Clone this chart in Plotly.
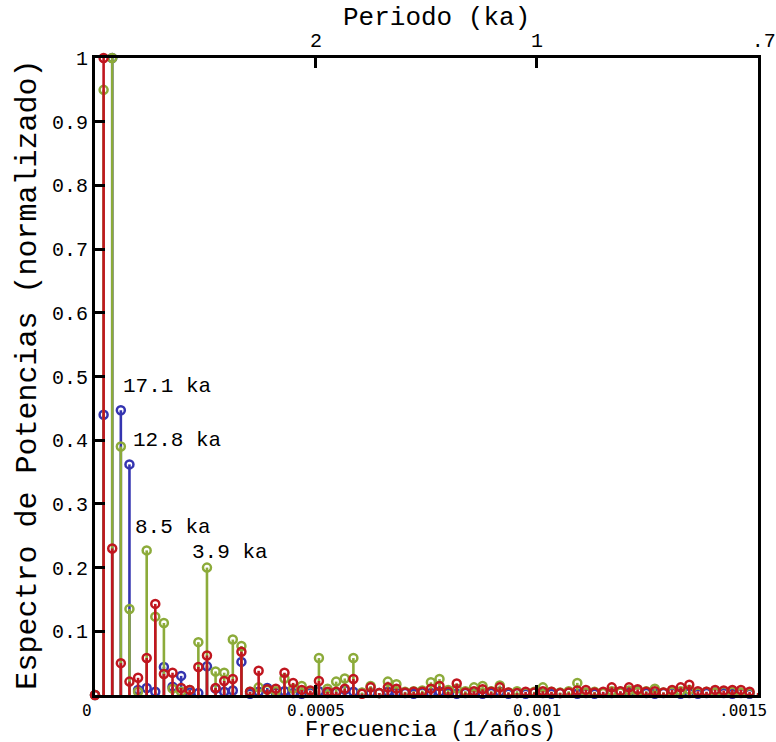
import plotly.graph_objects as go

# Frequency grid (1/years): spectral resolution of the records
freq_step = 1.949e-5
n_freq = 78
freqs = [k * freq_step for k in range(n_freq)]

blue_vals = [0.0, 0.44, 1.0, 0.447, 0.362, 0.008, 0.011, 0.005, 0.044, 0.013,
             0.03, 0.004, 0.003, 0.045, 0.01, 0.005, 0.007, 0.052, 0.002, 0.005,
             0.011, 0.004, 0.006, 0.003, 0.002, 0.004, 0.006, 0.003, 0.004, 0.008,
             0.005, 0.003, 0.004, 0.003, 0.005, 0.004, 0.003, 0.002, 0.004, 0.003,
             0.005, 0.003, 0.002, 0.003, 0.004, 0.002, 0.003, 0.005, 0.002, 0.003,
             0.002, 0.004, 0.003, 0.002, 0.003, 0.004, 0.002, 0.003, 0.002, 0.004,
             0.003, 0.005, 0.004, 0.006, 0.003, 0.002, 0.003, 0.004, 0.002, 0.003,
             0.002, 0.003, 0.004, 0.003, 0.002, 0.003, 0.002, 0.002]

green_vals = [0.0, 0.95, 1.0, 0.39, 0.135, 0.005, 0.227, 0.123, 0.113, 0.01,
              0.005, 0.008, 0.083, 0.2, 0.037, 0.035, 0.087, 0.077, 0.005, 0.012,
              0.008, 0.006, 0.026, 0.01, 0.014, 0.006, 0.058, 0.01, 0.021, 0.026,
              0.058, 0.004, 0.014, 0.003, 0.021, 0.017, 0.005, 0.006, 0.007, 0.02,
              0.025, 0.008, 0.01, 0.006, 0.012, 0.014, 0.006, 0.015, 0.004, 0.006,
              0.004, 0.005, 0.012, 0.005, 0.004, 0.006, 0.019, 0.004, 0.005, 0.003,
              0.006, 0.004, 0.007, 0.005, 0.006, 0.01, 0.004, 0.005, 0.006, 0.008,
              0.004, 0.005, 0.004, 0.006, 0.005, 0.004, 0.003, 0.002]

red_vals = [0.0, 1.0, 0.23, 0.05, 0.021, 0.027, 0.058, 0.143, 0.033, 0.035,
            0.011, 0.008, 0.044, 0.062, 0.011, 0.022, 0.025, 0.068, 0.005, 0.038,
            0.009, 0.01, 0.035, 0.019, 0.008, 0.007, 0.022, 0.005, 0.005, 0.01,
            0.025, 0.002, 0.012, 0.003, 0.012, 0.01, 0.004, 0.005, 0.005, 0.01,
            0.014, 0.005, 0.018, 0.004, 0.006, 0.009, 0.005, 0.012, 0.004, 0.003,
            0.005, 0.004, 0.006, 0.005, 0.003, 0.004, 0.007, 0.008, 0.004, 0.005,
            0.012, 0.006, 0.012, 0.009, 0.005, 0.006, 0.004, 0.008, 0.012, 0.016,
            0.006, 0.005, 0.008, 0.007, 0.008, 0.008, 0.005, 0.003]

series_names = ["Serie azul", "Serie verde", "Serie roja"]
series_colors = ["#3434b0", "#8cab3a", "#c0161f"]

x_tick_vals = [0, 0.0005, 0.001, 0.0015]
x_tick_text = ["0", "0.0005", "0.001", ".0015"]
x_tick_label_shift = [-8, 0, 0, -15]
y_tick_vals = [0.1, 0.2, 0.3, 0.4, 0.5, 0.6, 0.7, 0.8, 0.9, 1]
y_tick_text = ["0.1", "0.2", "0.3", "0.4", "0.5", "0.6", "0.7", "0.8", "0.9", "1"]
period_tick_vals = [0.0005, 0.001, 0.0015]
period_tick_text = ["2", "1", "\u00a0.7"]

peak_labels = ["17.1 ka", "12.8 ka", "8.5 ka", "3.9 ka"]
peak_label_x = [0.0000580, 0.0000810, 0.0000850, 0.0002160]
peak_label_y = [0.485, 0.40, 0.263, 0.223]

MONO = "Liberation Mono, Courier New, monospace"
X_RANGE = [0, 0.0015003]

fig = go.Figure()
for vals, name, color in zip([blue_vals, green_vals, red_vals], series_names, series_colors):
    sx, sy = [], []
    for f, v in zip(freqs, vals):
        sx += [f, f, None]
        sy += [0, v, None]
    fig.add_trace(go.Scatter(x=sx, y=sy, mode="lines", line=dict(color=color, width=2.6),
                             name=name, showlegend=False, hoverinfo="skip", cliponaxis=False))
    fig.add_trace(go.Scatter(x=freqs, y=vals, mode="markers", name=name, showlegend=False,
                             marker=dict(symbol="circle-open", size=8, color=color,
                                         line=dict(color=color, width=2.5)),
                             cliponaxis=False))

# invisible trace for top (period) axis
fig.add_trace(go.Scatter(x=[0, 0.0015], y=[0, 0], xaxis="x2", mode="markers",
                         marker=dict(opacity=0), showlegend=False, hoverinfo="skip"))

for txt, xv, yv in zip(peak_labels, peak_label_x, peak_label_y):
    fig.add_annotation(x=xv, y=yv, text=txt, showarrow=False, xanchor="left",
                       yanchor="middle", font=dict(family=MONO, size=21, color="black"))

# bottom tick labels (placed as annotations so the last one can sit inside the page)
for tv, tt, sh in zip(x_tick_vals, x_tick_text, x_tick_label_shift):
    fig.add_annotation(x=tv, xref="x", y=-0.025, yref="paper", text=tt, showarrow=False,
                       xanchor="center", yanchor="middle", xshift=sh, borderpad=0,
                       font=dict(family="DejaVu Sans Mono, monospace", size=16, color="black"))

fig.add_annotation(xref="paper", yref="paper", x=0.506, y=-0.056, text="Frecuencia (1/años)",
                   showarrow=False, xanchor="center", yanchor="middle", borderpad=0,
                   font=dict(family=MONO, size=22, color="black"))
fig.add_annotation(xref="paper", yref="paper", x=0.515, y=1.0628, text="Periodo (ka)",
                   showarrow=False, xanchor="center", yanchor="middle",
                   font=dict(family=MONO, size=26, color="black"))
fig.add_annotation(xref="paper", yref="paper", x=-0.101, y=0.503,
                   text="Espectro de Potencias (normalizado)", textangle=-90,
                   showarrow=False, xanchor="center", yanchor="middle",
                   font=dict(family=MONO, size=30, color="black"))

fig.update_layout(
    width=776, height=742,
    margin=dict(l=95, r=18, t=58, b=47, autoexpand=False),
    paper_bgcolor="white", plot_bgcolor="white",
    xaxis=dict(range=X_RANGE, tickvals=x_tick_vals, showticklabels=False,
               ticks="inside", ticklen=10, tickwidth=2.5, tickcolor="black",
               showline=True, linecolor="black", linewidth=3, mirror=False,
               showgrid=False, zeroline=False, automargin=False),
    xaxis2=dict(range=X_RANGE, overlaying="x", side="top", tickvals=period_tick_vals,
                ticktext=period_tick_text, ticks="inside", ticklen=10, tickwidth=2.5,
                tickcolor="black", showline=True, linecolor="black", linewidth=3,
                showgrid=False, zeroline=False, automargin=False,
                ticklabeloverflow="allow",
                tickfont=dict(family=MONO, size=20, color="black")),
    yaxis=dict(range=[0, 1], tickvals=y_tick_vals, ticktext=y_tick_text,
               ticks="inside", ticklen=10, tickwidth=2.5, tickcolor="black",
               showline=True, linecolor="black", linewidth=3, mirror=True,
               showgrid=False, zeroline=False, automargin=False,
               tickfont=dict(family=MONO, size=20, color="black")),
)

fig.write_html("out.html")
